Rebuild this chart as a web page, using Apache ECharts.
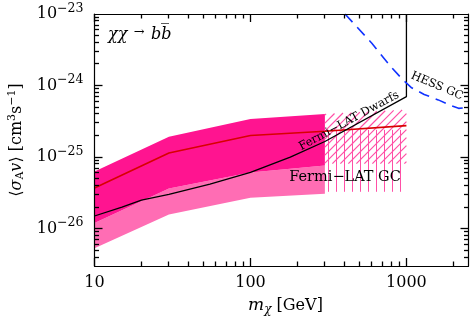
<!DOCTYPE html>
<html><head><meta charset="utf-8">
<script src="https://cdn.jsdelivr.net/npm/echarts@6/dist/echarts.min.js"></script>
<style>html,body{margin:0;padding:0;background:#fff}#c{width:471px;height:323px}</style>
</head><body><div id="c"></div>
<script>
// ---------------- data ----------------
const gcMass      = [10, 30, 100, 300];
const gc1SigLow   = [1.2e-26, 3.65e-26, 6.1e-26, 7.6e-26];
const gc1SigHigh  = [6.3e-26, 1.92e-25, 3.4e-25, 4.0e-25];
const gc2SigLow   = [5.3e-27, 1.58e-26, 2.7e-26, 3.07e-26];

const gcLineMass  = [10, 30, 100, 300, 1000];
const gcCentral   = [3.7e-26, 1.14e-25, 2.0e-25, 2.3e-25, 2.75e-25];

const extMass     = [300, 1000];
const ext1SigLow  = [8.1e-26, 8.1e-26];
const ext1SigHigh = [4.0e-25, 4.6e-25];
const ext2SigLow  = [3.27e-26, 3.27e-26];
const ext2SigHigh = [2.4e-25, 2.4e-25];

const dwarfMass   = [10, 15, 20, 30, 55, 100, 180, 300, 1000, 1000];
const dwarfLimit  = [1.5e-26, 2.0e-26, 2.5e-26, 3.0e-26, 4.2e-26, 6.1e-26, 1.0e-25, 1.65e-25, 7.0e-25, 1e-23];

const hessMass    = [404, 600, 800, 950, 1080, 1300, 1600, 1950, 2160, 2500];
const hessLimit   = [1.0e-23, 3.9e-24, 1.8e-24, 1.2e-24, 9.3e-25, 7.5e-25, 6.3e-25, 5.2e-25, 4.8e-25, 4.9e-25];

const xTickLabels = ['10', '100', '1000'];
const yTickExps   = ['−26', '−25', '−24', '−23'];

const X_MIN = 10, X_MAX = 2500, Y_MIN = 3e-27, Y_MAX = 1e-23;

// ---------------- helpers ----------------
const FONT = '"DejaVu Serif", serif';
const HATCH = '#ff4fa6';
function isPow10(v){ const l = Math.log10(v); return Math.abs(l - Math.round(l)) < 1e-6; }
function xFmt(v){
  if (!isPow10(v)) return '';
  const s = String(Math.round(Math.pow(10, Math.round(Math.log10(v)))));
  return xTickLabels.indexOf(s) >= 0 ? s : '';
}
function yFmt(v){
  if (!isPow10(v)) return '';
  const e = Math.round(Math.log10(v));
  const lab = '−' + Math.abs(e);
  return yTickExps.indexOf(lab) >= 0 ? '{b|10}{s|' + lab + '}' : '';
}
function bandSeries(xs, lo, hi, fill, z){
  return {
    type: 'custom', z: z, silent: true,
    data: [[xs[0], lo[0]]],
    renderItem: function(params, api){
      const pts = [];
      for (let i = 0; i < xs.length; i++) pts.push(api.coord([xs[i], hi[i]]));
      for (let i = xs.length - 1; i >= 0; i--) pts.push(api.coord([xs[i], lo[i]]));
      return { type: 'polygon', shape: { points: pts }, style: { fill: fill } };
    }
  };
}
// hatched extension: vertical lines over the 2-sigma range, diagonal lines over the 1-sigma range
function hatchSeries(z){
  return {
    type: 'custom', z: z, silent: true,
    data: [[extMass[0], ext2SigLow[0]]],
    renderItem: function(params, api){
      const kids = [];
      function region(lo, hi, kind){
        const tl = api.coord([extMass[0], hi[0]]), tr = api.coord([extMass[1], hi[1]]);
        const bl = api.coord([extMass[0], lo[0]]), br = api.coord([extMass[1], lo[1]]);
        const xl = tl[0], xr = tr[0];
        const tb = (tr[1] - tl[1]) / (xr - xl), ta = tl[1] - tb * xl;
        const bb = (br[1] - bl[1]) / (xr - xl), ba = bl[1] - bb * xl;
        const step = 8;
        if (kind === 'vert') {
          for (let x = Math.ceil(xl) + 3.5; x < xr; x += step) {
            kids.push({ type: 'line', shape: { x1: x, y1: ta + tb * x, x2: x, y2: ba + bb * x }, style: { stroke: HATCH, lineWidth: 1 } });
          }
        } else {
          const cMin = xl + Math.min(tl[1], bl[1]), cMax = xr + Math.max(br[1], bl[1]);
          for (let c = Math.ceil(cMin / step) * step; c <= cMax; c += step) {
            const xEnter = Math.max(xl, (c - ba) / (1 + bb));
            const xExit = Math.min(xr, (c - ta) / (1 + tb));
            if (xExit - xEnter > 0.3) {
              kids.push({ type: 'line', shape: { x1: xEnter, y1: c - xEnter, x2: xExit, y2: c - xExit }, style: { stroke: HATCH, lineWidth: 1.2 } });
            }
          }
        }
      }
      region(ext2SigLow, ext2SigHigh, 'vert');
      region(ext1SigLow, ext1SigHigh, 'diag');
      return { type: 'group', children: kids };
    }
  };
}
function lineSeries(xs, ys, color, width, type, z){
  return {
    type: 'line', z: z, silent: true, symbol: 'none', smooth: false,
    data: xs.map((x, i) => [x, ys[i]]),
    lineStyle: { color: color, width: width, type: type }
  };
}
// tick positions (axis decoration): majors at powers of ten, minors at 2..9
const xTicks = [], yTicks = [];
[10, 100, 1000].forEach(d => { xTicks.push([d, 8]); for (let k = 2; k <= 9; k++) { const v = k * d; if (v < X_MAX) xTicks.push([v, 4.5]); } });
[1e-27, 1e-26, 1e-25, 1e-24].forEach(d => {
  if (d > Y_MIN) yTicks.push([d, 8]);
  for (let k = 2; k <= 9; k++) { const v = k * d; if (v > Y_MIN * 1.01 && v < Y_MAX * 0.99) yTicks.push([v, 4.5]); }
});

const axisCommon = {
  type: 'log', logBase: 10, z: 10,
  axisLine: { show: true, onZero: false, lineStyle: { color: '#000', width: 1.2 } },
  axisTick: { show: false },
  splitLine: { show: false }
};

const annotations = [
  { type: 'text', x: 108, y: 35, z: 100, silent: true,
    style: { text: '{i|χχ} {a|→} {i|bb̅}', verticalAlign: 'middle', align: 'left',
      rich: { i: { fontFamily: FONT, fontSize: 16, fontStyle: 'italic', fill: '#000' },
              a: { fontFamily: FONT, fontSize: 13, fill: '#000', padding: [0, 3, 4, 3] } } } },
  { type: 'text', x: 349, y: 121, rotation: 28.5 * Math.PI / 180, z: 100, silent: true,
    style: { text: 'Fermi−LAT Dwarfs', font: '11.5px ' + FONT, fill: '#000', align: 'center', verticalAlign: 'middle' } },
  { type: 'text', x: 437, y: 86, rotation: -23 * Math.PI / 180, z: 100, silent: true,
    style: { text: 'HESS GC', font: '11.5px ' + FONT, fill: '#000', align: 'center', verticalAlign: 'middle' } },
  { type: 'text', x: 345, y: 177, z: 100, silent: true,
    style: { text: 'Fermi−LAT GC', font: '14.5px ' + FONT, fill: '#000', align: 'center', verticalAlign: 'middle' } }
];

const chart = echarts.init(document.getElementById('c'), null, { renderer: 'canvas' });
chart.setOption({
  animation: false,
  grid: { left: 94.5, top: 14, right: 2.5, bottom: 57, outerBoundsMode: 'none' },
  xAxis: [
    Object.assign({}, axisCommon, {
      position: 'bottom', min: X_MIN, max: X_MAX,
      axisLabel: { show: true, formatter: xFmt, margin: 9, color: '#000', fontFamily: FONT, fontSize: 16, showMinLabel: true, showMaxLabel: true, hideOverlap: false },
      name: '{i|m}{sub|χ}{n| [GeV]}', nameLocation: 'middle', nameGap: 30, nameMoveOverlap: false,
      nameTextStyle: { color: '#000', fontFamily: FONT, fontSize: 16, padding: [0, 0, 0, 8], rich: {
        i: { fontFamily: FONT, fontSize: 17, fontStyle: 'italic', color: '#000' },
        sub: { fontFamily: FONT, fontSize: 12, fontStyle: 'italic', color: '#000', padding: [8, 0, 0, 0] },
        n: { fontFamily: FONT, fontSize: 16, color: '#000' } } }
    }),
    Object.assign({}, axisCommon, { position: 'top', min: X_MIN, max: X_MAX, axisLabel: { show: false } })
  ],
  yAxis: [
    Object.assign({}, axisCommon, {
      position: 'left', min: Y_MIN, max: Y_MAX,
      axisLabel: { show: true, formatter: yFmt, margin: 11, showMinLabel: true, showMaxLabel: true, hideOverlap: false,
        rich: {
          b: { fontFamily: FONT, fontSize: 16, color: '#000' },
          s: { fontFamily: FONT, fontSize: 12.5, color: '#000', padding: [0, 0, 11, 0] } } },
      name: '{n|⟨}{i|σ}{sub|A}{i|v}{n|⟩ [cm}{sup|3}{n|s}{sup|−1}{n|]}', nameLocation: 'middle', nameGap: 68, nameMoveOverlap: false,
      nameTextStyle: { color: '#000', fontFamily: FONT, fontSize: 16, rich: {
        n: { fontFamily: FONT, fontSize: 16, color: '#000' },
        i: { fontFamily: FONT, fontSize: 16, fontStyle: 'italic', color: '#000' },
        sub: { fontFamily: FONT, fontSize: 11, color: '#000', padding: [8, 0, 0, 0] },
        sup: { fontFamily: FONT, fontSize: 11, color: '#000', padding: [0, 0, 9, 0] } } }
    }),
    Object.assign({}, axisCommon, { position: 'right', min: Y_MIN, max: Y_MAX, axisLabel: { show: false } })
  ],
  series: [
    bandSeries(gcMass, gc2SigLow, gc1SigLow, '#ff6db4', 1),
    bandSeries(gcMass, gc1SigLow, gc1SigHigh, '#ff1490', 2),
    hatchSeries(3),
    lineSeries(gcLineMass, gcCentral, '#d80000', 1.6, 'solid', 5),
    lineSeries(dwarfMass, dwarfLimit, '#000000', 1.3, 'solid', 5),
    lineSeries(hessMass, hessLimit, '#1133ff', 1.6, [11, 7], 5)
  ],
  graphic: annotations
});

// ticks on all four sides, placed through the axes' own scales
const corner0 = chart.convertToPixel({ gridIndex: 0 }, [X_MIN, Y_MIN]);
const corner1 = chart.convertToPixel({ gridIndex: 0 }, [X_MAX, Y_MAX]);
const L = corner0[0], B = corner0[1], R = corner1[0], T = corner1[1];
const tickEls = [];
function tl(x1, y1, x2, y2){
  tickEls.push({ type: 'line', z: 150, silent: true, shape: { x1: x1, y1: y1, x2: x2, y2: y2 }, style: { stroke: '#000', lineWidth: 1.3 } });
}
xTicks.forEach(t => {
  const px = Math.round(chart.convertToPixel({ gridIndex: 0 }, [t[0], 1e-25])[0] - 0.5) + 0.5;
  tl(px, B, px, B - t[1]); tl(px, T, px, T + t[1]);
});
yTicks.forEach(t => {
  const py = Math.round(chart.convertToPixel({ gridIndex: 0 }, [100, t[0]])[1] - 0.5) + 0.5;
  tl(L, py, L + t[1], py); tl(R, py, R - t[1], py);
});
chart.setOption({ graphic: annotations.concat(tickEls) }, { replaceMerge: ['graphic'] });
</script></body></html>
